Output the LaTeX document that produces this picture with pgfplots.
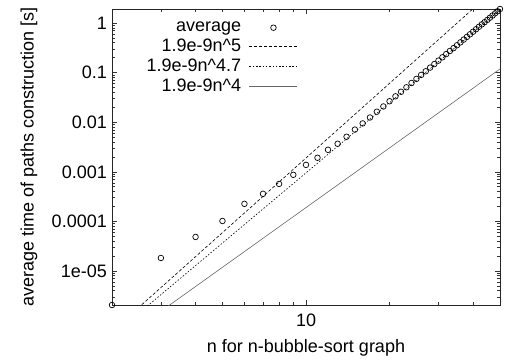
\documentclass[border=0pt]{standalone}
\usepackage{fontspec}
\setmainfont{Liberation Sans}
\usepackage{pgfplots}
\pgfplotsset{compat=1.18}
\begin{document}
\fontsize{18}{20}\selectfont
\begin{tikzpicture}[x=1pt,y=1pt]
\begin{axis}[
  name=ax,
  at={(0,0)}, anchor=south west,
  scale only axis,
  width=388pt, height=296pt,
  xmode=log, ymode=log,
  xmin=2, xmax=50,
  ymin=2.06e-6, ymax=1.92,
  axis line style={line width=0.9pt, black!85},
  every tick/.style={black!80, line width=0.6pt},
  major tick length=5pt, minor tick length=3pt,
  tick align=inside,
  xtick={10}, xticklabels={10},
  minor xtick={3,4,5,6,7,8,9,20,30,40},
  ytick={1e-5,1e-4,1e-3,1e-2,1e-1,1},
  yticklabels={1e-05,0.0001,0.001,0.01,0.1,1},
  minor ytick={3e-6,4e-6,5e-6,6e-6,7e-6,8e-6,9e-6,
               2e-5,3e-5,4e-5,5e-5,6e-5,7e-5,8e-5,9e-5,
               2e-4,3e-4,4e-4,5e-4,6e-4,7e-4,8e-4,9e-4,
               2e-3,3e-3,4e-3,5e-3,6e-3,7e-3,8e-3,9e-3,
               2e-2,3e-2,4e-2,5e-2,6e-2,7e-2,8e-2,9e-2,
               2e-1,3e-1,4e-1,5e-1,6e-1,7e-1,8e-1,9e-1},
  xticklabel style={yshift=-3pt},
  yticklabel style={xshift=1pt},
  tick label style={font=\fontsize{18}{20}\selectfont},
  xlabel={n for n-bubble-sort graph},
  ylabel={average time of paths construction [s]},
  label style={font=\fontsize{18}{20}\selectfont},
  xlabel style={at={(axis description cs:0.5,-0.1588)}, anchor=base},
  ylabel style={at={(axis description cs:-0.214,0.5)}, anchor=center, rotate=0},
  legend style={at={(axis description cs:0.487,0.972)}, anchor=north east,
    draw=none, fill=none, font=\fontsize{18}{20}\selectfont,
    row sep=0.8pt, column sep=6pt},
  legend cell align=right,
  legend plot pos=right,
  legend image code/.code={\draw[mark repeat=2,mark phase=2,#1] plot coordinates {(0pt,0pt) (24pt,0pt) (48pt,0pt)};},
]
\addplot[only marks, mark=o, mark size=2.8pt, mark options={line width=0.7pt, black}] coordinates {
(2,2.06e-6) (3,1.83e-5) (4,4.86e-5) (5,1.02e-4) (6,2.26e-4) (7,3.6e-4) (8,5.7e-4) (9,8.7e-4)
(10,1.38e-3) (11,1.92e-3) (12,2.78e-3) (13,3.68e-3) (14,5.1e-3) (15,7.1e-3)
(16,9.46e-3) (17,0.01245) (18,0.0163) (19,0.0208) (20,0.0265) (21,0.0333) (22,0.0411)
(23,0.0506) (24,0.0618) (25,0.0749) (26,0.0901) (27,0.1065) (28,0.1263) (29,0.149)
(30,0.1747) (31,0.2038) (32,0.2367) (33,0.2734) (34,0.3117) (35,0.3572) (36,0.4079)
(37,0.4639) (38,0.5257) (39,0.5939) (40,0.669) (41,0.7515) (42,0.8416) (43,0.940)
(44,1.042) (45,1.158) (46,1.284) (47,1.421) (48,1.569) (49,1.728) (50,1.92)
};
\addlegendentry{average}
\addplot[black, line width=0.6pt, dash pattern=on 3pt off 2pt] coordinates {(2,6.08e-7) (50,5.94)};
\addlegendentry{1.9e-9n\^{}5}
\addplot[black, line width=0.6pt, dash pattern=on 1.5pt off 1.8pt] coordinates {(2,4.94e-7) (50,1.836)};
\addlegendentry{1.9e-9n\^{}4.7}
\addplot[black!60, line width=0.6pt] coordinates {(2,3.04e-7) (50,0.11875)};
\addlegendentry{1.9e-9n\^{}4}
\end{axis}
\path (ax.south west) ++(-112pt,-55pt) rectangle ++(505pt,360pt);
\end{tikzpicture}
\end{document}
